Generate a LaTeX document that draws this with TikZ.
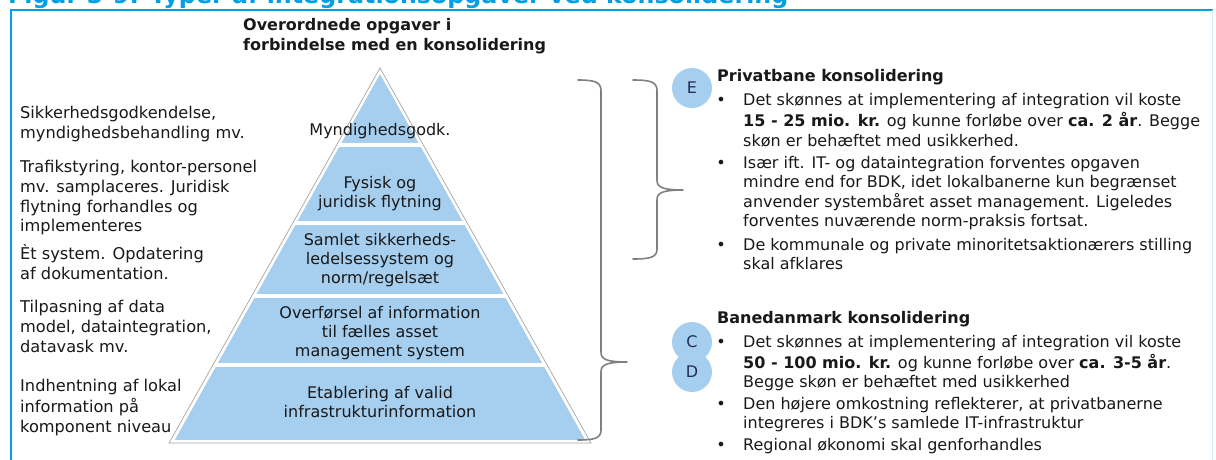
\documentclass[tikz,border=0pt]{standalone}
\usepackage{fontspec}
\usepackage{graphicx}
\setmainfont{DejaVu Sans}
\definecolor{titleblue}{RGB}{0,160,227}
\definecolor{pyrblue}{RGB}{166,206,238}
\definecolor{pyrline}{RGB}{165,165,165}
\definecolor{brgrey}{RGB}{128,128,128}
\definecolor{txtc}{RGB}{25,25,25}
\definecolor{circtxt}{RGB}{35,45,80}
\tikzset{
  lefttxt/.style={anchor=north west, inner sep=0pt, align=left, text=txtc, font=\fontsize{16.2}{19.7}\selectfont},
  pyrtxt/.style={anchor=north, inner sep=0pt, align=center, text=txtc, font=\fontsize{16}{19.3}\selectfont},
  rtxt/.style={anchor=north west, inner sep=0pt, align=left, text=txtc, font=\fontsize{16}{19.4}\selectfont},
  rhead/.style={anchor=north west, inner sep=0pt, align=left, text=txtc, font=\fontsize{16}{19.4}\selectfont\bfseries},
  bul/.style={anchor=north, inner sep=0pt, text=txtc, font=\fontsize{16}{19.4}\selectfont},
  circ/.style={circle, fill=pyrblue, minimum size=40pt, inner sep=0pt, text=circtxt, font=\fontsize{16}{19}\selectfont},
  brace/.style={draw=brgrey, line width=1.6pt, line cap=round, line join=round},
}
\begin{document}
\begin{tikzpicture}[x=1pt,y=-1pt]
\useasboundingbox (0,0) rectangle (1216,459);
\fill[white] (0,0) rectangle (1216,459);
% cut-off title
\begin{scope}
\clip (0,0) rectangle (1216,459);
\node[anchor=base west, inner sep=0pt, text=titleblue] (title) at (8,3)
  {\resizebox{780pt}{!}{\bfseries Figur 5-9: Typer af integrationsopgaver ved konsolidering}};
\end{scope}
% frame
\draw[titleblue, line width=2pt] (11,460) -- (11,10) -- (1213,10);
\draw[titleblue!20, line width=0.8pt] (1212,10) -- (1212,460);
% heading
\node[anchor=north west, inner sep=0pt, align=left, text=txtc, font=\fontsize{16}{20}\selectfont\bfseries] (head) at (243,16)
  {\strut Overordnede opgaver i\\forbindelse med en konsolidering};
% pyramid
\coordinate (apex) at (380,68);
\coordinate (bl) at (169,443);
\coordinate (br) at (591,443);
\begin{scope}
\clip (380,74.2) -- (174.2,441) -- (585.8,441) -- cycle;
\fill[pyrblue] (150,60) rectangle (610,143);
\fill[pyrblue] (150,147) rectangle (610,221);
\fill[pyrblue] (150,225) rectangle (610,294);
\fill[pyrblue] (150,298) rectangle (610,363);
\fill[pyrblue] (150,367) rectangle (610,440);
\end{scope}
\draw[pyrline, line width=0.7pt] (apex) -- (bl) -- (br) -- cycle;
\node[pyrtxt] (p1) at (380,121.5) {\strut Myndighedsgodk.};
\node[pyrtxt] (p2) at (380,174.5) {\strut Fysisk og\\juridisk flytning};
\node[pyrtxt] (p3) at (380,231.5) {\strut Samlet sikkerheds-\\ledelsessystem og\\norm/regelsæt};
\node[pyrtxt] (p4) at (380,304.5) {\strut Overførsel af information\\til fælles asset\\management system};
\node[pyrtxt] (p5) at (380,384.5) {\strut Etablering af valid\\infrastrukturinformation};
% left texts
\node[lefttxt] (l1) at (20,104.7) {\strut Sikkerhedsgodkendelse,\\myndighedsbehandling mv.};
\node[lefttxt] (l2) at (20,158.9) {\strut Trafikstyring, kontor-personel\\mv. samplaceres. Juridisk\\flytning forhandles og\\implementeres};
\node[lefttxt] (l3) at (20,244.7) {\strut Èt system. Opdatering\\af dokumentation.};
\node[lefttxt] (l4) at (20,298.7) {\strut Tilpasning af data\\model, dataintegration,\\datavask mv.};
\node[lefttxt] (l5) at (20,377.7) {\strut Indhentning af lokal\\information på\\komponent niveau};
% braces
\draw[brace] (578,80) .. controls (595,80) and (601,82) .. (601,91) -- (601,352)
  .. controls (601,359) and (606,362) .. (627,362)
  .. controls (606,362) and (601,365) .. (601,372) -- (601,430)
  .. controls (601,438) and (595,440) .. (578,440);
\draw[brace] (633,80) .. controls (651,80) and (657,82) .. (657,91) -- (657,180)
  .. controls (657,187) and (662,190) .. (683,190)
  .. controls (662,190) and (657,193) .. (657,200) -- (657,249)
  .. controls (657,257) and (651,259) .. (633,259);
% circles
\node[circ] (cE) at (692,88) {E};
\node[circ] (cC) at (692,342) {};
\node[circ] (cD) at (692,372) {};
\node[inner sep=0pt, text=circtxt, font=\fontsize{16}{19}\selectfont] (tC) at (cC) {C};
\node[inner sep=0pt, text=circtxt, font=\fontsize{16}{19}\selectfont] (tD) at (cD) {D};
% right texts: Privatbane
\node[rhead] (h1) at (717,68.1) {\strut Privatbane konsolidering};
\node[bul] (b1) at (721,92.1) {\strut •};
\node[rtxt] (t1) at (743,92.1) {\strut Det skønnes at implementering af integration vil koste\\\textbf{15 - 25 mio. kr.} og kunne forløbe over \textbf{ca. 2 år}. Begge\\skøn er behæftet med usikkerhed.};
\node[bul] (b2) at (721,154.7) {\strut •};
\node[rtxt] (t2) at (743,154.7) {\strut Især ift. IT- og dataintegration forventes opgaven\\mindre end for BDK, idet lokalbanerne kun begrænset\\anvender systembåret asset management. Ligeledes\\forventes nuværende norm-praksis fortsat.};
\node[bul] (b3) at (721,236.4) {\strut •};
\node[rtxt] (t3) at (743,236.4) {\strut De kommunale og private minoritetsaktionærers stilling\\skal afklares};
% right texts: Banedanmark
\node[rhead] (h2) at (717,309.4) {\strut Banedanmark konsolidering};
\node[bul] (b4) at (721,333.7) {\strut •};
\node[rtxt] (t4) at (743,333.7) {\strut Det skønnes at implementering af integration vil koste\\\textbf{50 - 100 mio. kr.} og kunne forløbe over \textbf{ca. 3-5 år}.\\Begge skøn er behæftet med usikkerhed};
\node[bul] (b5) at (721,395.7) {\strut •};
\node[rtxt] (t5) at (743,395.7) {\strut Den højere omkostning reflekterer, at privatbanerne\\integreres i BDK’s samlede IT-infrastruktur};
\node[bul] (b6) at (721,436.4) {\strut •};
\node[rtxt] (t6) at (743,436.4) {\strut Regional økonomi skal genforhandles};
\end{tikzpicture}
\end{document}
